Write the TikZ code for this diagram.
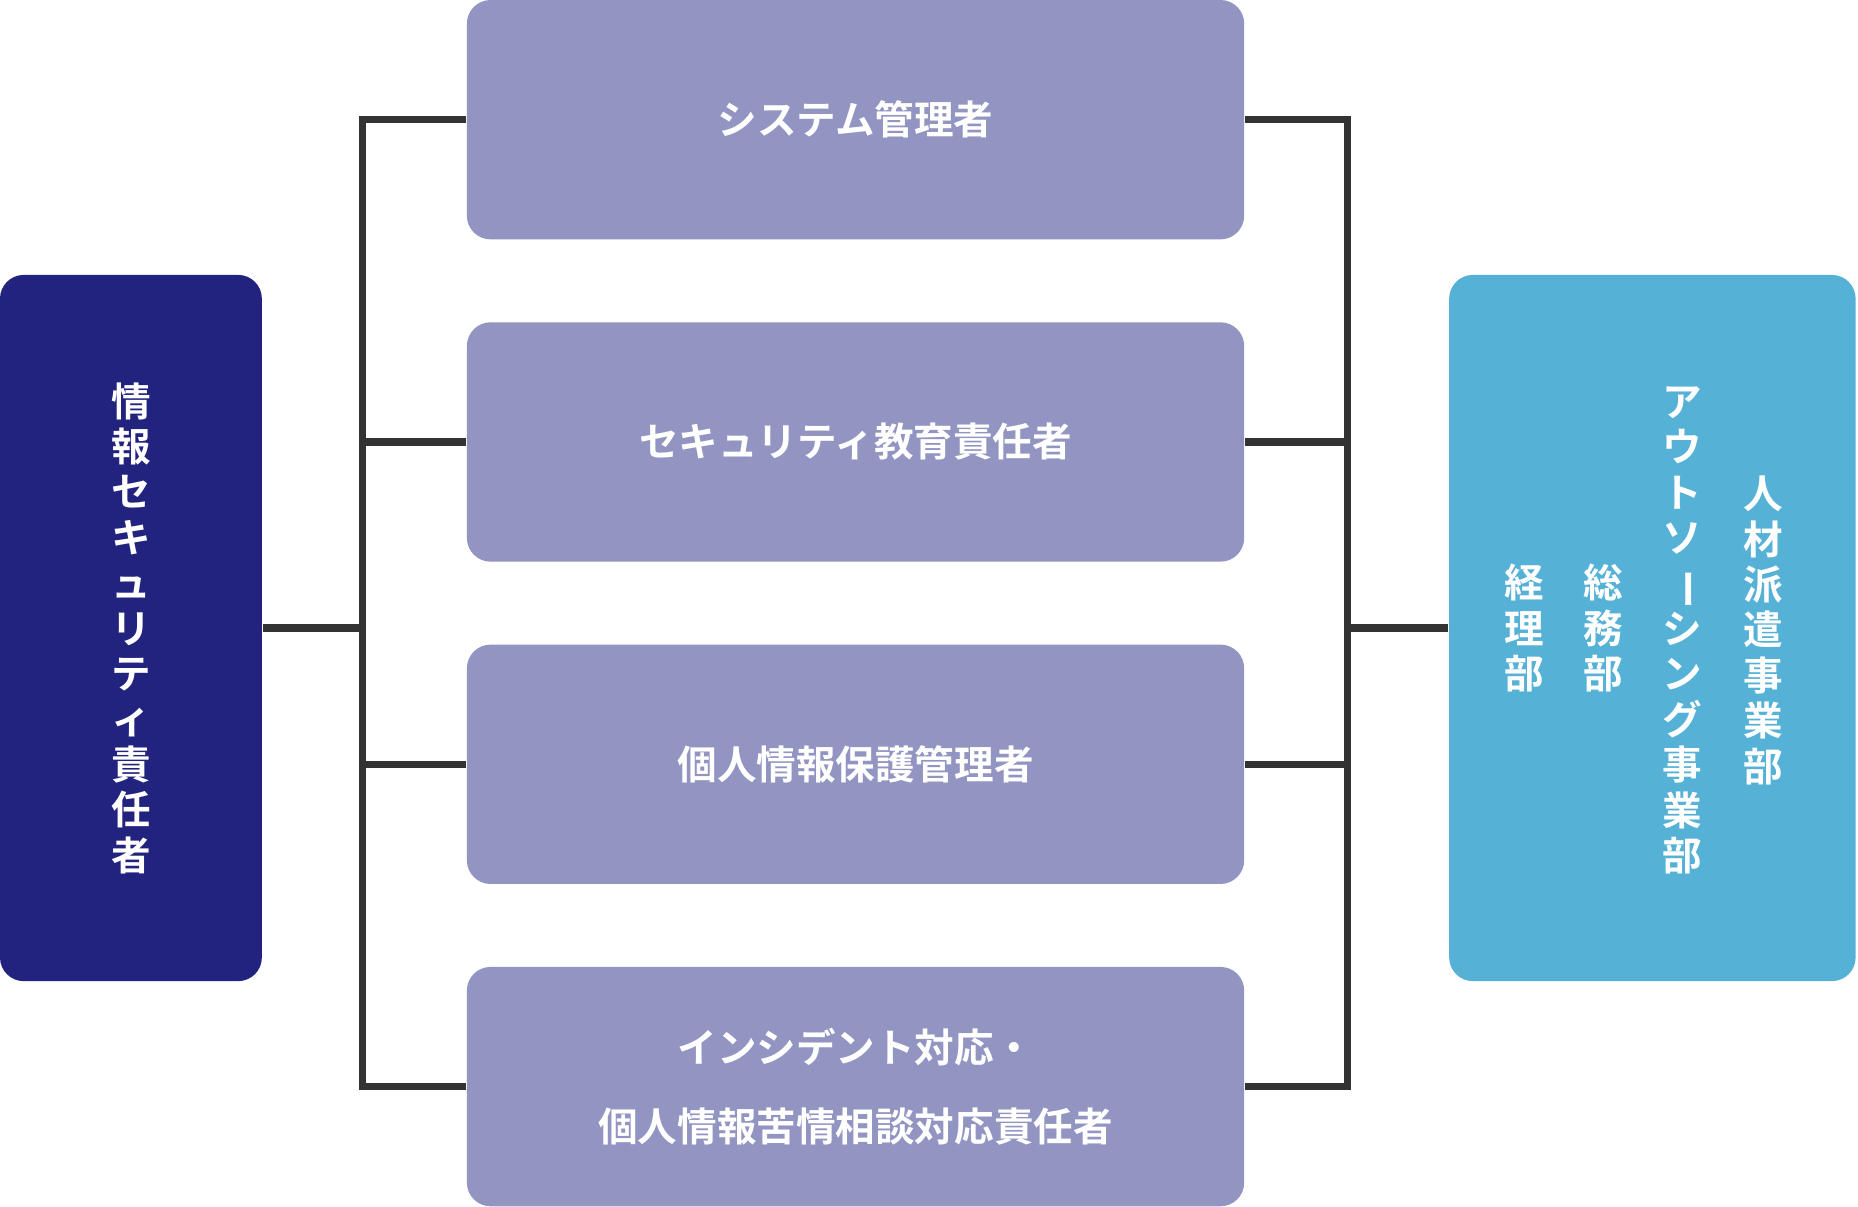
\documentclass[tikz,border=0pt]{standalone}
\usepackage{fontspec}
\usepackage{graphicx}
\newfontfamily\cjk[BoldFont={Noto Sans CJK JP Bold}]{Noto Sans CJK JP}
\usetikzlibrary{positioning}
\definecolor{navy}{HTML}{22237F}
\definecolor{lavender}{HTML}{9294C2}
\definecolor{skyblue}{HTML}{56B1D6}
\definecolor{linegray}{HTML}{333333}
\newcommand{\tate}{\rotatebox[origin=c]{-90}{ー}}
\begin{document}
\begin{tikzpicture}[x=0.1mm, y=-0.1mm,
    box/.style={rounded corners=2mm, minimum width=65.6mm, minimum height=20.2mm, fill=lavender, text=white, font=\cjk\bfseries\fontsize{9.5}{19}\selectfont, align=center, inner sep=0},
    side/.style={rounded corners=2mm, minimum height=59.6mm, text=white, inner sep=0},
    vtext/.style={text=white, font=\cjk\bfseries\fontsize{9.5}{10.9}\selectfont, align=center, inner sep=0},
    conn/.style={line width=0.6mm, draw=linegray}]
    \useasboundingbox (0,0) rectangle (1568,1018);
    % Side boxes
    \node[side, fill=navy, minimum width=22.1mm] (lead) at (110.5,530) {};
    \node[side, fill=skyblue, minimum width=34.3mm] (dept) at (1394.5,530) {};
    % Middle boxes
    \node[box] (sys) at (722,101) {システム管理者};
    \node[box] (edu) at (722,373) {セキュリティ教育責任者};
    \node[box] (priv) at (722,645) {個人情報保護管理者};
    \node[box] (inc) at (722,917) {インシデント対応・\\個人情報苦情相談対応責任者};
    % Vertical texts
    \node[vtext] (leadtxt) at (111,530) {情\\報\\セ\\キ\\ュ\\リ\\テ\\ィ\\責\\任\\者};
    \node[vtext] (dept1) at (1488,532) {人\\材\\派\\遣\\事\\業\\部};
    \node[vtext] (dept2) at (1420,532) {ア\\ウ\\ト\\ソ\\\tate\\シ\\ン\\グ\\事\\業\\部};
    \node[vtext] (dept3) at (1353,530) {総\\務\\部};
    \node[vtext] (dept4) at (1286,530) {経\\理\\部};
    % Brackets
    \coordinate (lbar) at (306,530);
    \coordinate (rbar) at (1137,530);
    \draw[conn] (lead.east) -- (lbar);
    \draw[conn] (dept.west) -- (rbar);
    \draw[conn] (sys.west) -| (lbar) |- (inc.west);
    \draw[conn] (edu.west) -- (edu.west -| lbar);
    \draw[conn] (priv.west) -- (priv.west -| lbar);
    \draw[conn] (sys.east) -| (rbar) |- (inc.east);
    \draw[conn] (edu.east) -- (edu.east -| rbar);
    \draw[conn] (priv.east) -- (priv.east -| rbar);
\end{tikzpicture}
\end{document}
